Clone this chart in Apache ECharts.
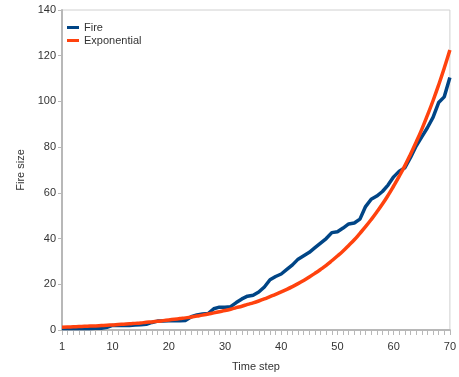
<!DOCTYPE html>
<html><head><meta charset="utf-8">
<script src="https://cdn.jsdelivr.net/npm/echarts@6/dist/echarts.min.js"></script>
<style>html,body{margin:0;padding:0;background:#fff}#c{width:459px;height:377px}</style>
</head><body><div id="c"></div>
<script>
const timeSteps = Array.from({length: 70}, (_, i) => String(i + 1));
const fire = [0.7,0.7,0.7,0.7,0.7,0.7,0.8,0.8,1.2,2,
  2,2,2,2.2,2.3,2.5,3.3,3.9,3.9,4,
  4,4,4.2,5.8,6.6,7,7.2,9.3,10,10,
  10.2,12,13.6,14.8,15.2,16.6,18.8,22,23.4,24.5,
  26.5,28.5,31,32.5,34,36,38,40,42.6,43,
  44.6,46.4,46.8,48.5,54,57.2,58.6,60.6,63.4,67,
  69.5,71,75.5,80.5,84.5,88.5,93,99.5,102,110.5];
const exponential = [1.2,1.3,1.4,1.5,1.6,1.7,1.8,1.95,2.1,2.2,
  2.4,2.55,2.7,2.9,3.1,3.35,3.55,3.8,4.1,4.4,
  4.7,5.0,5.3,5.7,6.1,6.5,7.0,7.5,8.0,8.5,
  9.1,9.8,10.4,11.2,11.9,12.7,13.6,14.6,15.6,16.7,
  17.8,19.0,20.3,21.7,23.2,24.8,26.5,28.3,30.3,32.4,
  34.6,37.0,39.5,42.3,45.2,48.3,51.6,55.1,58.9,63.0,
  67.3,71.9,76.9,82.2,87.8,93.9,100.3,107.2,114.6,122.5];
const xLabelSteps = ['1','10','20','30','40','50','60','70'];
const yMin = 0, yMax = 140, yStep = 20;

const chart = echarts.init(document.getElementById('c'), null, {renderer: 'canvas'});
const font = 'Liberation Sans, Arial, sans-serif';
chart.setOption({
  animation: false,
  textStyle: {fontFamily: font},
  grid: {left: 62, right: 7, top: 10, bottom: 44, show: true, borderColor: '#d0d0d0', borderWidth: 1, backgroundColor: 'transparent'},
  legend: {
    orient: 'vertical', left: 67, top: 22, padding: 0, itemWidth: 12, itemHeight: 3, itemGap: 2,
    icon: 'rect',
    textStyle: {fontSize: 11, color: '#333', fontFamily: font},
    data: ['Fire', 'Exponential']
  },
  xAxis: {
    type: 'category', data: timeSteps, boundaryGap: false,
    name: 'Time step', nameLocation: 'middle', nameGap: 31,
    nameTextStyle: {fontSize: 11, color: '#333', fontFamily: font},
    axisLine: {lineStyle: {color: '#b8b8b8', width: 2}},
    axisTick: {show: true, interval: 0, length: 5, lineStyle: {color: '#b8b8b8', width: 1}},
    axisLabel: {
      interval: (idx, val) => xLabelSteps.includes(val),
      fontSize: 11, color: '#333', margin: 11, fontFamily: font
    },
    splitLine: {show: false}
  },
  yAxis: {
    type: 'value', min: yMin, max: yMax, interval: yStep,
    name: 'Fire size', nameLocation: 'middle', nameGap: 35, nameRotate: 90,
    nameTextStyle: {fontSize: 11, color: '#333', fontFamily: font},
    axisLine: {show: true, lineStyle: {color: '#b8b8b8', width: 2}},
    axisTick: {show: true, length: 4, lineStyle: {color: '#b8b8b8'}},
    axisLabel: {fontSize: 11, color: '#333', margin: 6, fontFamily: font},
    splitLine: {show: false}
  },
  series: [
    {name: 'Fire', type: 'line', data: fire, showSymbol: false, symbol: 'none',
     lineStyle: {color: '#004586', width: 3.5}, itemStyle: {color: '#004586'}, z: 3},
    {name: 'Exponential', type: 'line', data: exponential, showSymbol: false, symbol: 'none', smooth: true,
     lineStyle: {color: '#ff420e', width: 3.5}, itemStyle: {color: '#ff420e'}, z: 4}
  ]
});
</script></body></html>
